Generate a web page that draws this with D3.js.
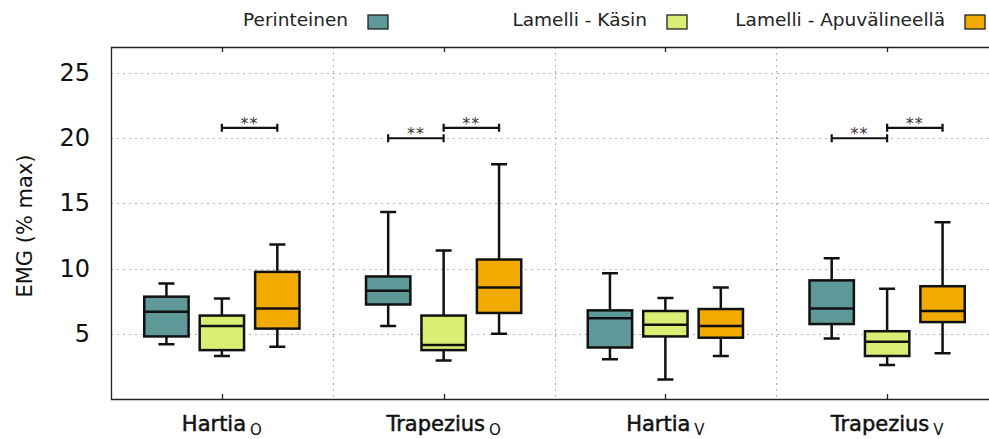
<!DOCTYPE html>
<html>
<head>
<meta charset="utf-8">
<script src="https://cdn.jsdelivr.net/npm/d3@7"></script>
<style>
  body { margin: 0; background: #fff; }
  text { font-family: "DejaVu Sans", sans-serif; }
</style>
</head>
<body>
<div id="chart"></div>
<script>
// chart data
const categories = ["Hartia", "Trapezius", "Hartia", "Trapezius"]
const subscripts = ["O", "O", "V", "V"]
const seriesNames = ["Perinteinen", "Lamelli - Käsin", "Lamelli - Apuvälineellä"]
const seriesColours = ["#5f9898", "#d9ef74", "#f1aa00"]
const yTicks = [5, 10, 15, 20, 25]

// [whisker low, q1, median, q3, whisker high] per category
const perinteinen = [
    [4.2, 4.8, 6.7, 7.85, 8.85],
    [5.6, 7.25, 8.3, 9.4, 14.35],
    [3.05, 3.95, 6.2, 6.8, 9.65],
    [4.65, 5.75, 6.95, 9.1, 10.8]
]
const lamelliKasin = [
    [3.3, 3.75, 5.6, 6.4, 7.7],
    [2.95, 3.75, 4.15, 6.4, 11.4],
    [1.5, 4.8, 5.7, 6.75, 7.75],
    [2.6, 3.3, 4.4, 5.2, 8.45]
]
const lamelliApu = [
    [4.0, 5.4, 6.95, 9.75, 11.85],
    [5.0, 6.6, 8.55, 10.7, 18.0],
    [3.3, 4.7, 5.6, 6.9, 8.55],
    [3.5, 5.9, 6.75, 8.65, 13.55]
]
const seriesData = [perinteinen, lamelliKasin, lamelliApu]

// significance brackets: category, from series, to series, level
const sigCategory = [0, 1, 1, 3, 3]
const sigFrom = [1, 0, 1, 0, 1]
const sigTo = [2, 1, 2, 1, 2]
const sigLevel = [20.8, 20, 20.8, 20, 20.8]
const sigLabel = ["**", "**", "**", "**", "**"]

const width = 989
const height = 439
const plotLeft = 111
const plotRight = 998   // plot runs off the right edge like the original
const plotTop = 47
const plotBottom = 399

const svg = d3.select("#chart")
    .append("svg")
    .attr("width", width)
    .attr("height", height)

const x = d3.scaleBand()
    .domain(d3.range(categories.length))
    .range([plotLeft, plotRight])
    .padding(0)

const xs = d3.scalePoint()
    .domain(d3.range(seriesNames.length))
    .range([0, x.bandwidth()])
    .padding(1)

const y = d3.scaleLinear()
    .domain([0, 27])
    .range([plotBottom, plotTop])

const boxW = x.bandwidth() * 0.2
const capW = 16

// grid
const grid = svg.append("g")
    .attr("stroke", "#b3b3b3")
    .attr("stroke-width", 1)
    .attr("stroke-dasharray", "2,4")
grid.selectAll(".hg").data(yTicks).enter().append("line")
    .attr("x1", plotLeft).attr("x2", plotRight)
    .attr("y1", d => Math.round(y(d)) + 0.5).attr("y2", d => Math.round(y(d)) + 0.5)
grid.selectAll(".vg").data(d3.range(1, categories.length)).enter().append("line")
    .attr("x1", d => Math.round(x(d)) + 0.5).attr("x2", d => Math.round(x(d)) + 0.5)
    .attr("y1", plotTop).attr("y2", plotBottom)

// frame: left, bottom and top (no right, it's cut off)
svg.append("path")
    .attr("d", `M${plotRight},${plotTop + 0.5}H${plotLeft + 0.5}V${plotBottom + 0.5}H${plotRight}`)
    .attr("fill", "none")
    .attr("stroke", "#222")
    .attr("stroke-width", 1.3)

// category ticks, top and bottom, pointing inward
const cx = i => x(i) + x.bandwidth() / 2
svg.selectAll(".tb").data(d3.range(categories.length)).enter().append("line")
    .attr("x1", d => Math.round(cx(d)) + 0.5).attr("x2", d => Math.round(cx(d)) + 0.5)
    .attr("y1", plotBottom).attr("y2", plotBottom - 5)
    .attr("stroke", "#222").attr("stroke-width", 1.3)
svg.selectAll(".tt").data(d3.range(categories.length)).enter().append("line")
    .attr("x1", d => Math.round(cx(d)) + 0.5).attr("x2", d => Math.round(cx(d)) + 0.5)
    .attr("y1", plotTop).attr("y2", plotTop + 5)
    .attr("stroke", "#222").attr("stroke-width", 1.3)

// y tick labels
svg.selectAll(".yl").data(yTicks).enter().append("text")
    .attr("x", 90)
    .attr("y", d => y(d) + 8)
    .attr("text-anchor", "end")
    .style("font-size", "24px")
    .style("fill", "#111")
    .text(d => d)

// y axis title
svg.append("text")
    .attr("transform", "translate(32,226) rotate(-90)")
    .attr("text-anchor", "middle")
    .style("font-size", "21px")
    .style("fill", "#111")
    .text("EMG (% max)")

// x labels with subscripts
const xl = svg.selectAll(".xl").data(d3.range(categories.length)).enter().append("text")
    .attr("x", d => cx(d))
    .attr("y", 431)
    .attr("text-anchor", "middle")
    .style("fill", "#111")
xl.append("tspan")
    .style("font-size", "21px")
    .style("stroke", "#111")
    .style("stroke-width", "0.5px")
    .text(d => categories[d])
xl.append("tspan")
    .attr("dx", 4)
    .attr("dy", 4)
    .style("font-size", "15px")
    .text(d => subscripts[d])

// boxes
seriesData.forEach((series, s) => {
    const g = svg.append("g")
    const bx = i => cx(i) - x.bandwidth() / 2 + xs(s)
    // whiskers
    g.selectAll(".w").data(series).enter().append("path")
        .attr("d", (d, i) => {
            const c = bx(i)
            return `M${c},${y(d[3])}V${y(d[4])}M${c - capW / 2},${y(d[4])}H${c + capW / 2}` +
                   `M${c},${y(d[1])}V${y(d[0])}M${c - capW / 2},${y(d[0])}H${c + capW / 2}`
        })
        .attr("stroke", "#111")
        .attr("stroke-width", 2.5)
        .attr("fill", "none")
    g.selectAll(".b").data(series).enter().append("rect")
        .attr("x", (d, i) => bx(i) - boxW / 2)
        .attr("y", d => y(d[3]))
        .attr("width", boxW)
        .attr("height", d => y(d[1]) - y(d[3]))
        .attr("fill", seriesColours[s])
        .attr("stroke", "#111")
        .attr("stroke-width", 2.5)
    g.selectAll(".m").data(series).enter().append("line")
        .attr("x1", (d, i) => bx(i) - boxW / 2).attr("x2", (d, i) => bx(i) + boxW / 2)
        .attr("y1", d => y(d[2])).attr("y2", d => y(d[2]))
        .attr("stroke", "#111")
        .attr("stroke-width", 2.5)
})

// significance brackets
const sig = svg.append("g")
sigCategory.forEach((c, k) => {
    const x1 = cx(c) - x.bandwidth() / 2 + xs(sigFrom[k])
    const x2 = cx(c) - x.bandwidth() / 2 + xs(sigTo[k])
    const yy = y(sigLevel[k])
    sig.append("path")
        .attr("d", `M${x1},${yy - 4}V${yy + 4}M${x1},${yy}H${x2}M${x2},${yy - 4}V${yy + 4}`)
        .attr("stroke", "#111")
        .attr("stroke-width", 2.2)
        .attr("fill", "none")
    sig.append("text")
        .attr("x", (x1 + x2) / 2)
        .attr("y", yy + 1)
        .attr("text-anchor", "middle")
        .style("font-size", "16px")
        .style("letter-spacing", "1px")
        .style("fill", "#333")
        .text(sigLabel[k])
})

// legend
const legendSwatchX = [368, 667, 965]
const legend = svg.selectAll(".lg").data(seriesNames).enter().append("g")
legend.append("text")
    .attr("x", (d, i) => legendSwatchX[i] - 20)
    .attr("y", 26)
    .attr("text-anchor", "end")
    .style("font-size", "18.5px")
    .style("fill", "#222")
    .text(d => d)
legend.append("rect")
    .attr("x", (d, i) => legendSwatchX[i])
    .attr("y", 15)
    .attr("width", 20)
    .attr("height", 14)
    .attr("fill", (d, i) => seriesColours[i])
    .attr("stroke", "#222")
    .attr("stroke-width", 1.3)
</script>
</body>
</html>
